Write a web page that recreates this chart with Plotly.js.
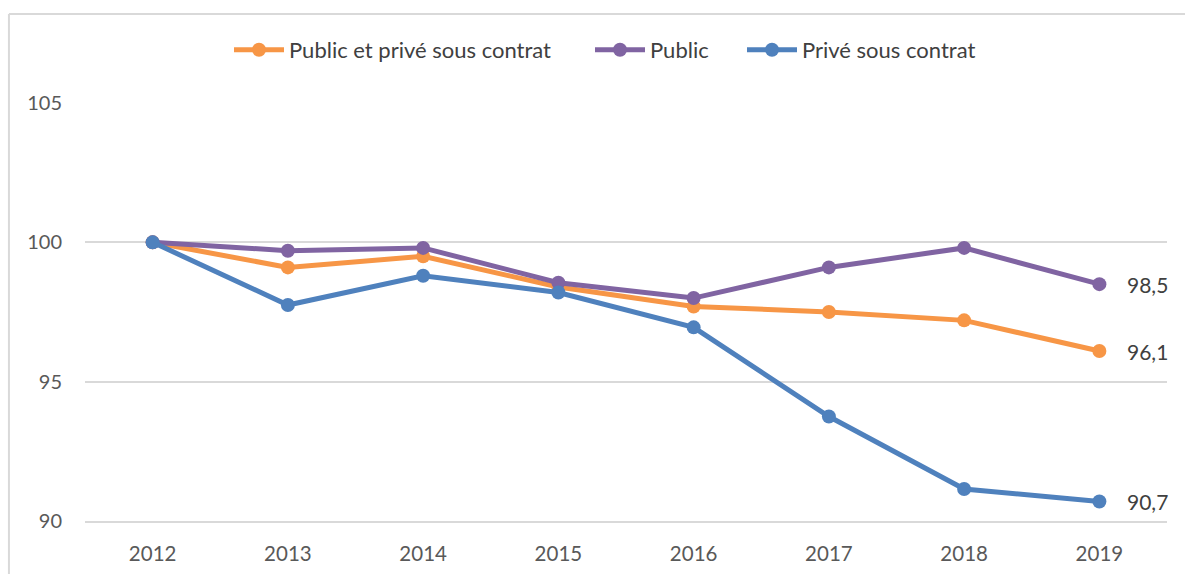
<!DOCTYPE html>
<html>
<head>
<meta charset="utf-8">
<script src="https://cdn.plot.ly/plotly-3.0.1.min.js"></script>
<style>html,body{margin:0;padding:0;background:#fff;}#chart{width:1185px;height:574px;}</style>
</head>
<body>
<div id="chart"></div>
<script>
const years = ["2012","2013","2014","2015","2016","2017","2018","2019"];
const seriesNames = ["Public et privé sous contrat","Public","Privé sous contrat"];
const publicEtPrive = [100, 99.1, 99.5, 98.4, 97.7, 97.5, 97.2, 96.1];
const publicVals = [100, 99.7, 99.8, 98.55, 98.0, 99.1, 99.8, 98.5];
const priveVals = [100, 97.75, 98.8, 98.2, 96.95, 93.75, 91.15, 90.7];
const colors = ["#F79646", "#8064A2", "#4F81BD"];
const yTicks = [90, 95, 100, 105];

const FONT = "Lato, sans-serif";
const allSeries = [publicEtPrive, publicVals, priveVals];
const legendIds = ["legend", "legend2", "legend3"];
const legendX = [239, 600, 752];
const traces = allSeries.map((vals, i) => ({
  x: years, y: vals, name: seriesNames[i], type: "scatter", mode: "lines+markers",
  line: {color: colors[i], width: 5},
  marker: {color: colors[i], size: 14},
  legend: legendIds[i],
  hoverinfo: "x+y"
}));

function fmt(v){ return v.toFixed(1).replace(".", ","); }
const last = years.length - 1;
const annotations = allSeries.map(vals => ({
  x: last, y: vals[last], xref: "x", yref: "y",
  text: fmt(vals[last]), showarrow: false, xanchor: "left", yanchor: "middle",
  xshift: 26, font: {family: FONT, size: 21, color: "#404040"}
}));

const layout = {
  width: 1185, height: 574,
  margin: {l: 85, r: 18, t: 103, b: 52.5},
  paper_bgcolor: "#ffffff", plot_bgcolor: "#ffffff",
  font: {family: FONT, size: 21, color: "#595959"},
  showlegend: true,
  annotations: annotations,
  xaxis: {type: "category", range: [-0.5, 7.5], showgrid: false, zeroline: false,
          showline: true, linecolor: "#d9d9d9", linewidth: 2, ticks: "",
          ticklabelstandoff: 13, tickfont: {family: FONT, size: 20.5, color: "#595959"}, fixedrange: true},
  yaxis: {range: [90, 105], tickvals: yTicks, ticktext: yTicks.map(String), showgrid: true,
          gridcolor: "#d9d9d9", gridwidth: 2, zeroline: false, showline: false, ticks: "",
          ticklabelstandoff: 22, tickfont: {family: FONT, size: 20, color: "#595959"}, fixedrange: true},
  shapes: [
    {type: "line", xref: "paper", yref: "paper", x0: -0.0703, x1: -0.0703, y0: -0.2, y1: 1.2127,
     line: {color: "#d9d9d9", width: 2}},
    {type: "line", xref: "paper", yref: "paper", x0: -0.0703, x1: 1.1, y0: 1.2127, y1: 1.2127,
     line: {color: "#d9d9d9", width: 2}}
  ]
};
legendIds.forEach((id, i) => {
  layout[id] = {orientation: "h", x: (legendX[i] - 10) / 1185, xanchor: "left", xref: "container",
    y: 1 - 50/574, yref: "container", yanchor: "middle", itemwidth: 50,
    font: {family: FONT, size: 22, color: "#404040"}, bgcolor: "rgba(0,0,0,0)"};
});

Plotly.newPlot("chart", traces, layout, {displayModeBar: false, staticPlot: true});
</script>
</body>
</html>
